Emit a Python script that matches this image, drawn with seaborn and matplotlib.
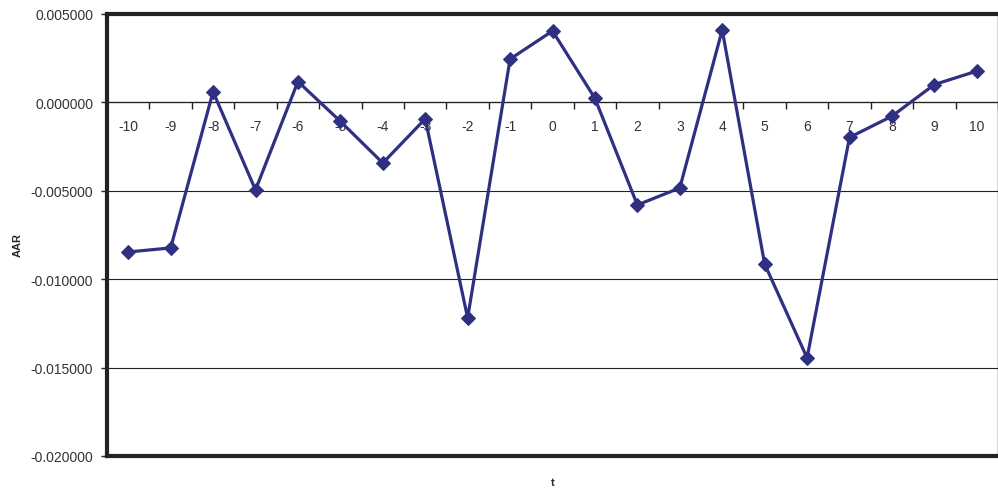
import numpy as np
import pandas as pd
import matplotlib
matplotlib.use("Agg")
import matplotlib.pyplot as plt
import seaborn as sns

# event window and average abnormal returns
t = [-10, -9, -8, -7, -6, -5, -4, -3, -2, -1, 0, 1, 2, 3, 4, 5, 6, 7, 8, 9, 10]
aar = [-0.00846, -0.00823, 0.00060, -0.00495, 0.00118, -0.00107, -0.00343, -0.00093,
       -0.01219, 0.00245, 0.00404, 0.00023, -0.00580, -0.00484, 0.00410, -0.00914,
       -0.01445, -0.00198, -0.00078, 0.00101, 0.00177]
yticks = [0.005, 0.0, -0.005, -0.01, -0.015, -0.02]

df = pd.DataFrame({"t": t, "AAR": aar})
df["pos"] = np.arange(len(df))

sns.set_style("white")
plt.rcParams["font.family"] = ["Liberation Sans", "DejaVu Sans"]

fig = plt.figure(figsize=(9.98, 4.89), dpi=100)
ax = fig.add_axes([107 / 998, 32 / 489, 891 / 998, 442 / 489])

line_col = "#2f3082"
sns.lineplot(data=df, x="pos", y="AAR", ax=ax, color=line_col, lw=2.3,
             marker="D", markersize=7.5, markeredgecolor=line_col, zorder=3)

ax.set_xlim(-0.5, len(t) - 0.5)
ax.set_ylim(-0.02, 0.005)
ax.set_yticks(yticks)
ax.set_yticklabels([f"{v:.6f}" for v in yticks])
ax.tick_params(axis="y", direction="out", length=4, width=1, color="#222",
               labelsize=10, labelcolor="#333", pad=6, left=True)
ax.set_xticks([])
ax.yaxis.grid(True, color="#222", lw=0.8)
ax.set_axisbelow(True)

for s in ["top", "left", "bottom"]:
    ax.spines[s].set_linewidth(3)
    ax.spines[s].set_color("#222")
ax.spines["right"].set_linewidth(1)
ax.spines["right"].set_color("#222")

# category axis crossing at zero
sec = ax.secondary_xaxis(0.8)
sec.set_alignment("bottom")
sec.set_xticks(df["pos"], [str(v) for v in t])
sec.set_xticks(np.arange(-0.5, len(t), 1), minor=True)
sec.tick_params(which="major", length=0, pad=12, labelsize=10, labelcolor="#333")
sec.tick_params(which="minor", length=5, width=1, color="#222", direction="out")
sec.spines["bottom"].set_linewidth(0.9)
sec.spines["bottom"].set_color("#222")

ax.set_xlabel("")
ax.set_ylabel("")
fig.text(18 / 998, 1 - 245 / 489, "AAR", rotation=90, ha="center", va="center",
         fontsize=8, fontweight="bold")
fig.text(553 / 998, 1 - 483 / 489, "t", ha="center", va="center",
         fontsize=8, fontweight="bold")

fig.savefig("out.png", dpi=100)
